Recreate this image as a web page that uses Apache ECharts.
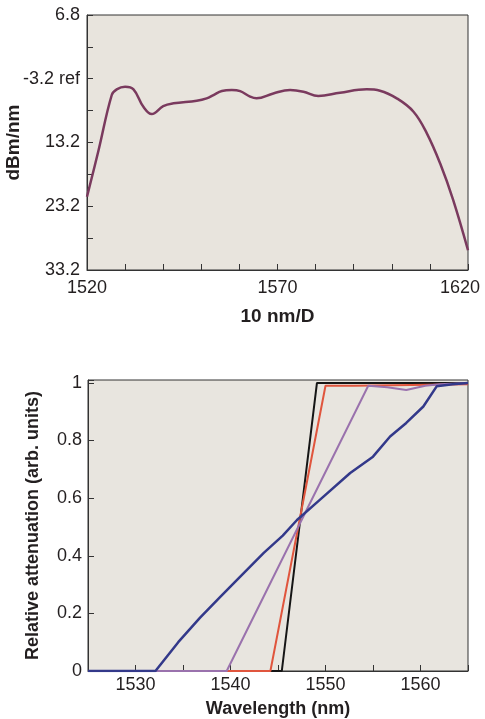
<!DOCTYPE html>
<html>
<head>
<meta charset="utf-8">
<script src="https://cdn.jsdelivr.net/npm/echarts@6/dist/echarts.min.js"></script>
<style>
html,body{margin:0;padding:0;background:#ffffff;}
#chart{width:485px;height:719px;}
</style>
</head>
<body>
<div id="chart"></div>
<script>
// ---- Top panel: spectrum ----
var specWl  = [1520, 1523, 1526.5, 1527.8, 1530, 1532.2, 1534.8, 1537, 1540, 1542.7, 1548.8, 1551.4, 1553.2, 1555.4, 1558, 1560.2, 1562.8, 1564.5, 1568.9, 1573.3, 1576.8, 1580.7, 1586.4, 1593.4, 1596.9, 1601.3, 1605.7, 1609.2, 1612.7, 1616.1, 1620];
var specDbm = [-21.7, -14.5, -5.75, -4.86, -4.45, -4.86, -7.6, -8.73, -7.5, -7.06, -6.64, -6.27, -5.75, -5.12, -4.97, -5.15, -6.0, -6.27, -5.5, -4.97, -5.23, -5.9, -5.39, -4.86, -5.07, -6.27, -8.37, -11.76, -16.5, -22.2, -30.1];
var specYTicks = {'-33.2':'33.2', '-23.2':'23.2', '-13.2':'13.2', '-3.2':'-3.2 ref', '6.8':'6.8'};
var specXLabels = [1520, 1570, 1620];

// ---- Bottom panel: relative attenuation ----
var blackWl  = [1525, 1545.4, 1549.1, 1565];
var blackAtt = [0, 0, 1.0, 1.0];
var redWl    = [1525, 1544.2, 1550.0, 1553, 1565];
var redAtt   = [0, 0, 0.99, 0.99, 0.995];
var purpleWl  = [1525, 1539.6, 1554.5, 1556.5, 1558.5, 1560.5, 1562, 1565];
var purpleAtt = [0, 0, 0.99, 0.985, 0.975, 0.99, 0.995, 1.0];
var blueWl  = [1525, 1532.1, 1534.5, 1536.8, 1539, 1541, 1543.5, 1545.5, 1547, 1549.4, 1552.6, 1555, 1556.8, 1558.5, 1560.3, 1561.7, 1563.4, 1565];
var blueAtt = [0, 0, 0.1, 0.185, 0.26, 0.327, 0.41, 0.47, 0.524, 0.594, 0.687, 0.744, 0.814, 0.861, 0.918, 0.988, 0.995, 1.0];
var attXLabels = [1530, 1540, 1550, 1560];

function zip(a, b) { return a.map(function (v, i) { return [v, b[i]]; }); }

var txt = '#231f20';
var axisCol = '#333333';
var font = 'Liberation Sans, Arial, Helvetica, sans-serif';

var chart = echarts.init(document.getElementById('chart'), null, {renderer: 'canvas'});
chart.setOption({
  animation: false,
  backgroundColor: '#ffffff',
  textStyle: {fontFamily: font, color: txt},
  grid: [
    {left: 87, top: 15, width: 381, height: 255, containLabel: false, outerBoundsMode: 'none', show: true, backgroundColor: '#e8e4dd', borderColor: axisCol, borderWidth: 1},
    {left: 88, top: 380, width: 380, height: 291, containLabel: false, outerBoundsMode: 'none', show: true, backgroundColor: '#e8e5df', borderColor: axisCol, borderWidth: 1}
  ],
  xAxis: [
    {
      gridIndex: 0, type: 'value', min: 1520, max: 1620, interval: 10,
      name: '10 nm/D', nameLocation: 'middle', nameGap: 37, nameMoveOverlap: false,
      nameTextStyle: {fontFamily: font, fontWeight: 'bold', fontSize: 19, color: txt},
      axisLine: {onZero: false, lineStyle: {color: axisCol, width: 1}},
      axisTick: {inside: true, length: 6, lineStyle: {color: axisCol}},
      splitLine: {show: false},
      axisLabel: {fontFamily: font, fontSize: 18, color: txt, margin: 9,
        rich: {last: {fontFamily: font, fontSize: 18, color: txt, padding: [0, 16, 0, 0]}},
        formatter: function (v) {
          var r = Math.round(v);
          if (specXLabels.indexOf(r) < 0) return '';
          return r === specXLabels[specXLabels.length - 1] ? '{last|' + r + '}' : String(r);
        }}
    },
    {
      gridIndex: 1, type: 'value', min: 1525, max: 1565, interval: 5,
      name: 'Wavelength (nm)', nameLocation: 'middle', nameGap: 29, nameMoveOverlap: false,
      nameTextStyle: {fontFamily: font, fontWeight: 'bold', fontSize: 18, color: txt},
      axisLine: {onZero: false, lineStyle: {color: axisCol, width: 1}},
      axisTick: {inside: true, length: 6, lineStyle: {color: axisCol}},
      splitLine: {show: false},
      axisLabel: {fontFamily: font, fontSize: 18, color: txt, margin: 5,
        formatter: function (v) { return attXLabels.indexOf(Math.round(v)) >= 0 ? String(Math.round(v)) : ''; }}
    }
  ],
  yAxis: [
    {
      gridIndex: 0, type: 'value', min: -33.2, max: 6.8, interval: 10,
      name: 'dBm/nm', nameLocation: 'middle', nameGap: 64, nameMoveOverlap: false,
      nameTextStyle: {fontFamily: font, fontWeight: 'bold', fontSize: 19, color: txt},
      axisLine: {onZero: false, lineStyle: {color: axisCol, width: 1}},
      axisTick: {inside: true, length: 6, lineStyle: {color: axisCol}},
      minorTick: {show: true, splitNumber: 2, length: 6, lineStyle: {color: axisCol}},
      splitLine: {show: false}, minorSplitLine: {show: false},
      axisLabel: {fontFamily: font, fontSize: 18, color: txt, margin: 7,
        formatter: function (v) { var k = (Math.round(v * 10) / 10).toString(); return specYTicks[k] || ''; }}
    },
    {
      gridIndex: 1, type: 'value', min: 0, max: 1.01, interval: 0.2,
      name: 'Relative attenuation (arb. units)', nameLocation: 'middle', nameGap: 46, nameMoveOverlap: false,
      nameTextStyle: {fontFamily: font, fontWeight: 'bold', fontSize: 18, color: txt},
      axisLine: {onZero: false, lineStyle: {color: axisCol, width: 1}},
      axisTick: {inside: true, length: 6, lineStyle: {color: axisCol}},
      splitLine: {show: false},
      axisLabel: {fontFamily: font, fontSize: 18, color: txt, margin: 6,
        formatter: function (v) { if (v > 1.005) return ''; return String(Math.round(v * 10) / 10); }}
    }
  ],
  series: [
    {type: 'line', xAxisIndex: 0, yAxisIndex: 0, data: zip(specWl, specDbm), smooth: 0.4, showSymbol: false,
      lineStyle: {color: '#7a3a5e', width: 2.5}},
    {type: 'line', xAxisIndex: 1, yAxisIndex: 1, data: zip(blackWl, blackAtt), showSymbol: false,
      lineStyle: {color: '#151515', width: 2}},
    {type: 'line', xAxisIndex: 1, yAxisIndex: 1, data: zip(redWl, redAtt), showSymbol: false,
      lineStyle: {color: '#e0553d', width: 2}},
    {type: 'line', xAxisIndex: 1, yAxisIndex: 1, data: zip(purpleWl, purpleAtt), showSymbol: false,
      lineStyle: {color: '#9a72ad', width: 2}},
    {type: 'line', xAxisIndex: 1, yAxisIndex: 1, data: zip(blueWl, blueAtt), showSymbol: false,
      lineStyle: {color: '#33398a', width: 2.5}}
  ]
});
</script>
</body>
</html>
